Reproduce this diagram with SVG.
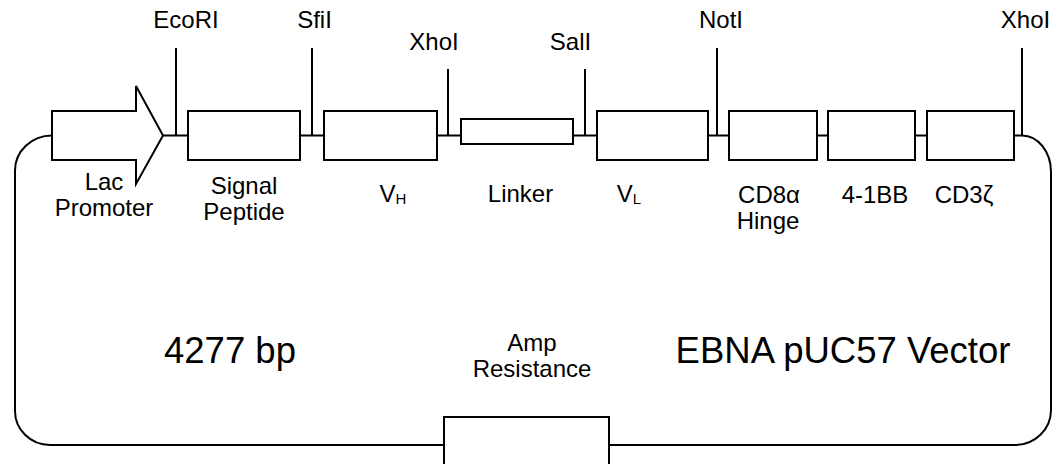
<svg xmlns="http://www.w3.org/2000/svg" width="1061" height="464" viewBox="0 0 1061 464">
<style>
.s{fill:#fff;stroke:#000;stroke-width:2}
.l{fill:none;stroke:#000;stroke-width:2}
text{font-family:"Liberation Sans",Arial,sans-serif;fill:#000;text-anchor:middle}
.t{font-size:24px}
.b{font-size:36.5px}
.sub{font-size:15px}
</style>
<rect width="1061" height="464" fill="#fff"/>
<g id="connectors">
<path class="l" d="M52,135.5 A37,35 0 0 0 15,170.5 V411 A35,34 0 0 0 50,445 H444"/>
<path class="l" d="M609,445 H1015 A36,35 0 0 0 1051,410 V172 A29,36.5 0 0 0 1022,135.5"/>
<path class="l" d="M163,135.5 H188 M300,135.5 H324 M437,135.5 H461 M573,135.5 H597 M708,135.5 H729 M817,135.5 H828 M915,135.5 H927 M1014,135.5 H1022"/>
<path class="l" d="M176,48 V135.5 M312,48 V135.5 M448,69 V135.5 M585,69 V135.5 M717,48 V135.5 M1022,48 V135.5"/>
</g>
<g id="lac-promoter">
<path class="s" d="M52,111 H136 V86 L163,135.5 L136,184 V160 H52 Z"/>
<text class="t" x="104" y="190">Lac</text>
<text class="t" x="104" y="216">Promoter</text>
</g>
<g id="signal-peptide">
<rect class="s" x="188" y="111" width="112" height="49"/>
<text class="t" x="244" y="194">Signal</text>
<text class="t" x="244" y="220">Peptide</text>
</g>
<g id="vh">
<rect class="s" x="324" y="111" width="113" height="49"/>
<text class="t" x="393" y="202">V<tspan class="sub" dy="2">H</tspan></text>
</g>
<g id="linker">
<rect class="s" x="461" y="119" width="112" height="25"/>
<text class="t" x="520.5" y="202">Linker</text>
</g>
<g id="vl">
<rect class="s" x="597" y="111" width="111" height="49"/>
<text class="t" x="629" y="202">V<tspan class="sub" dy="2">L</tspan></text>
</g>
<g id="cd8a-hinge">
<rect class="s" x="729" y="111" width="88" height="49"/>
<text class="t" x="769" y="203">CD8α</text>
<text class="t" x="768" y="229">Hinge</text>
</g>
<g id="four-1bb">
<rect class="s" x="828" y="111" width="87" height="49"/>
<text class="t" x="875" y="203">4-1BB</text>
</g>
<g id="cd3z">
<rect class="s" x="927" y="111" width="87" height="49"/>
<text class="t" x="964" y="203">CD3ζ</text>
</g>
<g id="amp-resistance">
<rect class="s" x="444" y="417" width="165" height="60"/>
<text class="t" x="532" y="351">Amp</text>
<text class="t" x="532" y="377">Resistance</text>
</g>
<g id="sites">
<text class="t" x="186" y="28">EcoRI</text>
<text class="t" x="314.5" y="28">SfiI</text>
<text class="t" x="434" y="50">XhoI</text>
<text class="t" x="570.5" y="50">SalI</text>
<text class="t" x="721" y="28">NotI</text>
<text class="t" x="1025.5" y="28">XhoI</text>
</g>
<g id="labels">
<text class="b" x="230" y="363">4277 bp</text>
<text class="b" x="843" y="363">EBNA pUC57 Vector</text>
</g>
</svg>
